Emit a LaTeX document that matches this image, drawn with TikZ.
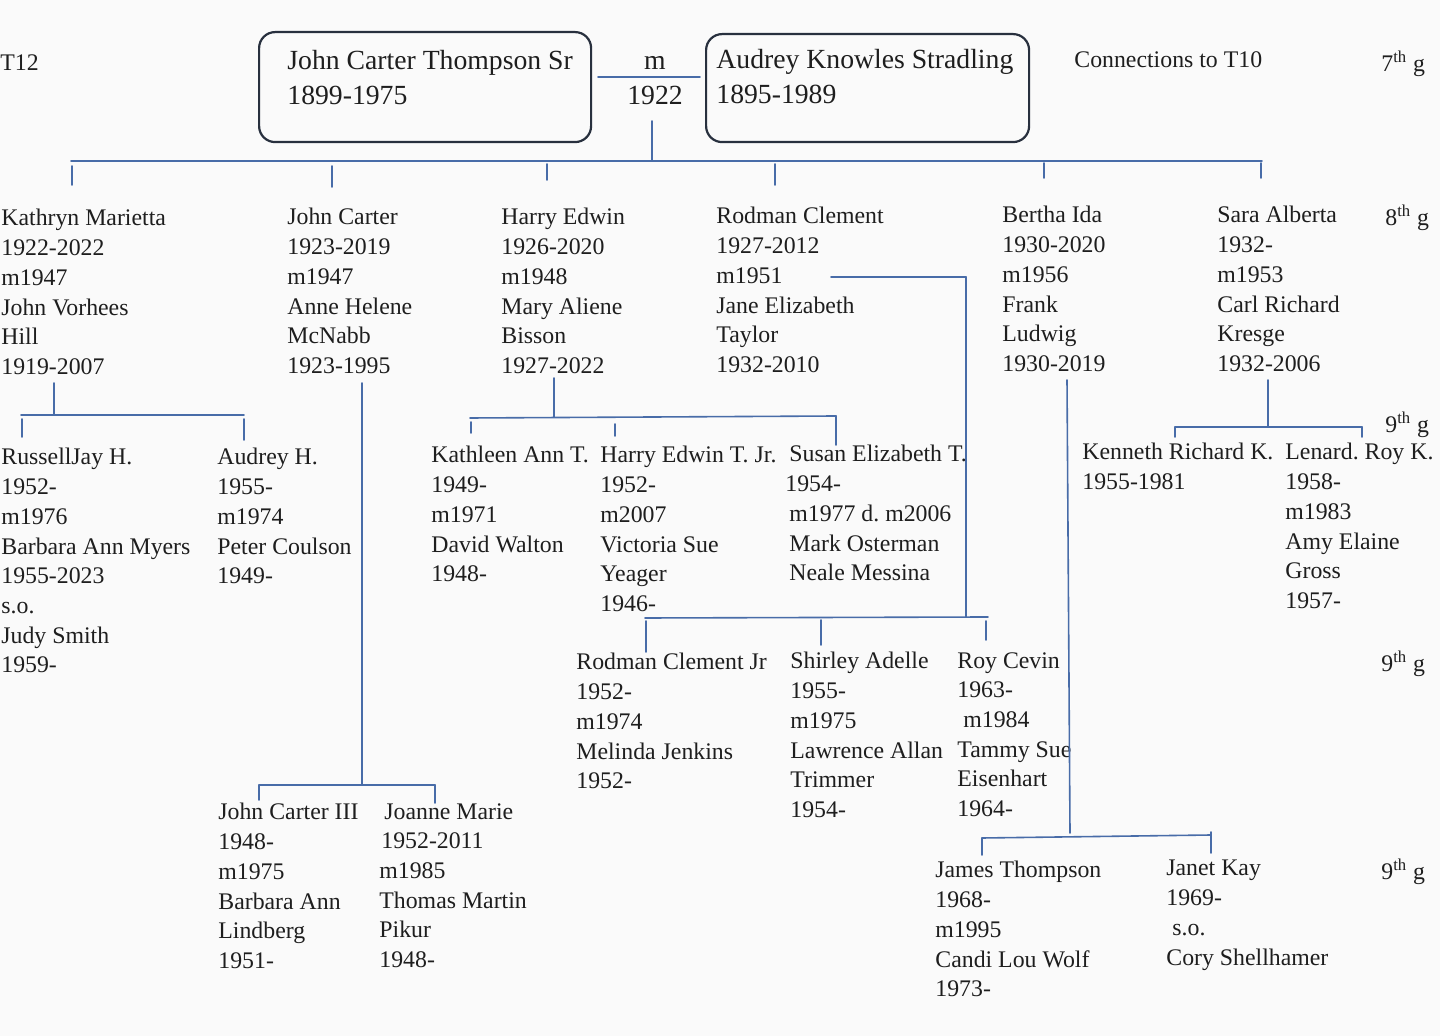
\documentclass[tikz,border=0pt]{standalone}
\usepackage{fontspec}
\setmainfont{Liberation Serif}
\usepackage{tkz-euclide}
\usepackage{tikz}
\usetikzlibrary{positioning}
\definecolor{linkblue}{RGB}{72,108,168}
\definecolor{boxline}{RGB}{40,48,62}
\definecolor{ink}{RGB}{30,30,30}
\frenchspacing

\begin{document}
\begin{tikzpicture}[x=0.5pt, y=-0.5pt,
    conn/.style={color=linkblue, line width=0.8pt},
    couplebox/.style={draw=boxline, line width=1.1pt, rounded corners=8pt, anchor=north west},
    couple/.style={align=left, inner sep=0pt, text=ink, font=\fontsize{13.85}{17.5}\selectfont},
    person/.style={anchor=north west, align=left, inner sep=0pt, text=ink, font=\fontsize{11.9}{14.85}\selectfont}]
    \fill[gray!4] (0,0) rectangle (1440,1036);
    \node[couplebox, minimum width=166pt, minimum height=55pt] (jctsbox) at (258,31) {};
    \node[couplebox, minimum width=161.5pt, minimum height=54pt] (aksbox) at (705,33) {};
    \node[couple, below right=9.5pt and 14.5pt of jctsbox.north west] (jcts) {John Carter Thompson Sr\\1899-1975};
    \node[couple, below right=8pt and 5.5pt of aksbox.north west] (aks) {Audrey Knowles Stradling\\1895-1989};
    \node[couple, align=center, anchor=north] (mar) at (655,56) {m\\1922};
    \node[person] (tree) at (0,54) {T12};
    \node[person] (conn10) at (1074,51) {Connections to T10};
    \node[person] (gen7) at (1381,51) {7\textsuperscript{th} g};
    \node[person] (gen8) at (1385,205) {8\textsuperscript{th} g};
    \node[person] (gen9a) at (1385,412) {9\textsuperscript{th} g};
    \node[person] (gen9b) at (1381,651) {9\textsuperscript{th} g};
    \node[person] (gen9c) at (1381,859) {9\textsuperscript{th} g};
    \node[person] (kathryn) at (1,209) {Kathryn Marietta\\1922-2022\\m1947\\John Vorhees\\Hill\\1919-2007};
    \node[person] (johnc) at (287,208) {John Carter\\1923-2019\\m1947\\Anne Helene\\McNabb\\1923-1995};
    \node[person] (harry) at (501,208) {Harry Edwin\\1926-2020\\m1948\\Mary Aliene\\Bisson\\1927-2022};
    \node[person] (rodman) at (716,207) {Rodman Clement\\1927-2012\\m1951\\Jane Elizabeth\\Taylor\\1932-2010};
    \node[person] (bertha) at (1002,206) {Bertha Ida\\1930-2020\\m1956\\Frank\\Ludwig\\1930-2019};
    \node[person] (sara) at (1217,206) {Sara Alberta\\1932-\\m1953\\Carl Richard\\Kresge\\1932-2006};
    \node[person] (russell) at (1,448) {RussellJay H.\\1952-\\m1976\\Barbara Ann Myers\\1955-2023\\s.o.\\Judy Smith\\1959-};
    \node[person] (audreyh) at (217,448) {Audrey H.\\1955-\\m1974\\Peter Coulson\\1949-};
    \node[person] (kathleen) at (431,446) {Kathleen Ann T.\\1949-\\m1971\\David Walton\\1948-};
    \node[person] (harryjr) at (600,446) {Harry Edwin T. Jr.\\1952-\\m2007\\Victoria Sue\\Yeager\\1946-};
    \node[person] (susan) at (789,445) {Susan Elizabeth T.\\\hspace*{-2pt}1954-\\m1977 d. m2006\\Mark Osterman\\Neale Messina};
    \node[person] (kenneth) at (1082,443) {Kenneth Richard K.\\1955-1981};
    \node[person] (lenard) at (1285,443) {Lenard. Roy K.\\1958-\\m1983\\Amy Elaine\\Gross\\1957-};
    \node[person] (rodjr) at (576,653) {Rodman Clement Jr\\1952-\\m1974\\Melinda Jenkins\\1952-};
    \node[person] (shirley) at (790,652) {Shirley Adelle\\1955-\\m1975\\Lawrence Allan\\Trimmer\\1954-};
    \node[person] (roy) at (957,652) {Roy Cevin\\1963-\\\hspace*{3pt}m1984\\Tammy Sue\\Eisenhart\\1964-};
    \node[person] (johnIII) at (218,803) {John Carter III\\1948-\\m1975\\Barbara Ann\\Lindberg\\1951-};
    \node[person] (joanne) at (379,803) {\hspace*{2.5pt}Joanne Marie\\\hspace*{1pt}1952-2011\\m1985\\Thomas Martin\\Pikur\\1948-};
    \node[person] (james) at (935,861) {James Thompson\\1968-\\m1995\\Candi Lou Wolf\\1973-};
    \node[person] (janet) at (1166,860) {Janet Kay\\1969-\\\hspace*{3pt}s.o.\\Cory Shellhamer};
    \tkzDefPoints{598/77/ML,700/77/MR,652/121/DT,652/161/DB,71/161/GL,1262/161/GR}
    \tkzDefPoints{72/166/KAT,72/185/KAB,332/166/JCT,332/187/JCB,547/164/HET,547/180/HEB,775/164/RCT,775/185/RCB,1044/163/BIT,1044/178/BIB,1261/163/SAT,1261/178/SAB}
    \tkzDefPoints{54/383/Ka1,54/415/Ka2,21/415/Ka3,244/415/Ka4,22/419/Ka5,22/437/Ka6,244/419/Ka7,244/440/Ka8}
    \tkzDefPoints{362/383/Jc1,362/785/Jc2,259/785/Jc3,435/785/Jc4,259/800/Jc5,435/803/Jc6}
    \tkzDefPoints{554/378/He1,554/417/He2,470/418/He3,836/416/He4,471/422/He5,471/433/He6,615/424/He7,615/436/He8,836/445/He9}
    \tkzDefPoints{831/277/Rc1,966/277/Rc2,966/617/Rc3,645/618/Rc4,988/617/Rc5,646/621/Rc6,646/652/Rc7,821/620/Rc8,821/645/Rc9,986/621/Rc10,986/640/Rc11}
    \tkzDefPoints{1067/380/Bi1,1070/833/Bi2,982/838/Bi3,1211/835/Bi4,982/855/Bi5,1211/832/Bi6,1211/853/Bi7}
    \tkzDefPoints{1268/380/Sa1,1268/427/Sa2,1175/427/Sa3,1362/427/Sa4,1175/437/Sa5,1362/437/Sa6}
    \tkzDrawSegments[conn](ML,MR DT,DB GL,GR KAT,KAB JCT,JCB HET,HEB RCT,RCB BIT,BIB SAT,SAB)
    \tkzDrawSegments[conn](Ka1,Ka2 Ka3,Ka4 Ka5,Ka6 Ka7,Ka8 Jc1,Jc2 Jc3,Jc4 Jc3,Jc5 Jc4,Jc6)
    \tkzDrawSegments[conn](He1,He2 He3,He4 He5,He6 He7,He8 He4,He9)
    \tkzDrawSegments[conn](Rc1,Rc2 Rc2,Rc3 Rc4,Rc5 Rc6,Rc7 Rc8,Rc9 Rc10,Rc11)
    \tkzDrawSegments[conn](Bi1,Bi2 Bi3,Bi4 Bi3,Bi5 Bi6,Bi7 Sa1,Sa2 Sa3,Sa4 Sa3,Sa5 Sa4,Sa6)
\end{tikzpicture}
\end{document}
